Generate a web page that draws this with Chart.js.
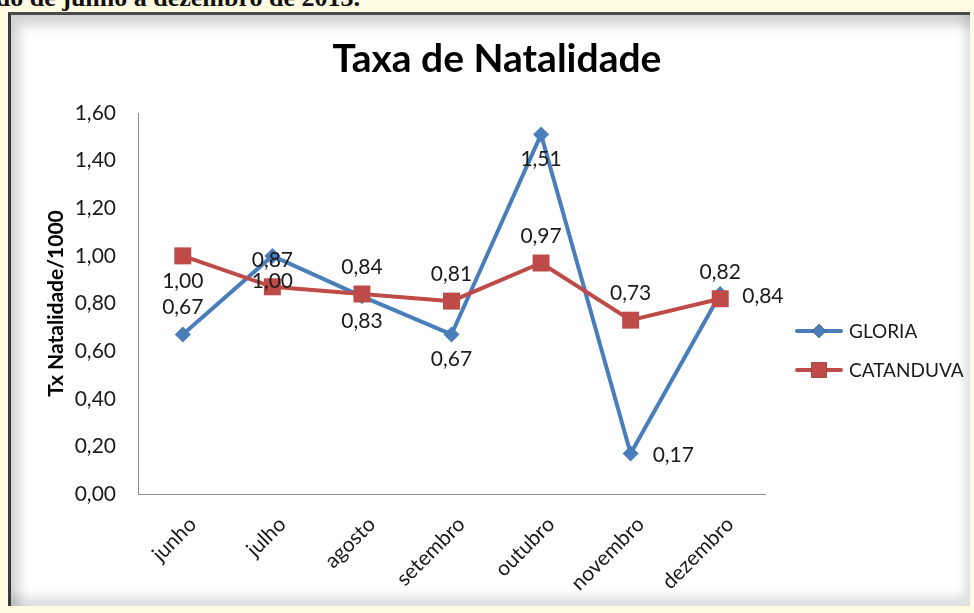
<!DOCTYPE html>
<html>
<head>
<meta charset="utf-8">
<script src="https://cdn.jsdelivr.net/npm/chart.js@4.4.0/dist/chart.umd.min.js"></script>
<style>
  body { margin: 0; background: #fffbe3; width: 974px; height: 613px; overflow: hidden; position: relative; }
  #caption { position: absolute; left: -62px; top: -17px; font: bold 26px "Liberation Serif", "DejaVu Serif", serif; color: #111; white-space: nowrap; }
  #frame { position: absolute; left: 8px; top: 12px; width: 962px; height: 594px; background: #fff;
    border-left: 3px solid #3a3a3a; border-top: 3px solid #4a4a4a; box-sizing: border-box;
    box-shadow: inset 8px 10px 12px rgba(0,0,0,0.18), inset -6px -10px 10px rgba(0,0,0,0.12); }
  #chart-box { position: absolute; left: 10px; top: 14px; width: 960px; height: 592px; }
</style>
</head>
<body>
<div id="caption">período de junho a dezembro de 2013.</div>
<div id="frame"></div>
<div id="chart-box"><canvas id="natalidade-chart"></canvas></div>
<script>
const months = ['junho', 'julho', 'agosto', 'setembro', 'outubro', 'novembro', 'dezembro'];
const gloria = [0.67, 1.00, 0.83, 0.67, 1.51, 0.17, 0.84];
const catanduva = [1.00, 0.87, 0.84, 0.81, 0.97, 0.73, 0.82];
const yTicks = [0, 0.2, 0.4, 0.6, 0.8, 1.0, 1.2, 1.4, 1.6];

// where each value label sits relative to its point
const gloriaLabelPos = ['above', 'below', 'below', 'below', 'below', 'right', 'right'];
const catanduvaLabelPos = ['below', 'above', 'above', 'above', 'above', 'above', 'above'];

const FONT = 'Lato, "Open Sans", sans-serif';
const BLUE = '#4a7ebb';
const RED = '#be4b48';

function fmt(v) {
  return v.toFixed(2).replace('.', ',');
}

// title centred on the whole canvas, not just the plot
const bigTitle = {
  id: 'bigTitle',
  afterDraw(chart) {
    const ctx = chart.ctx;
    ctx.save();
    ctx.font = 'bold 39px ' + FONT;
    ctx.fillStyle = '#000';
    ctx.textAlign = 'center';
    ctx.textBaseline = 'middle';
    ctx.fillText('Taxa de Natalidade', chart.width / 2 + 7, 45);
    ctx.restore();
  }
};

const valueLabels = {
  id: 'valueLabels',
  afterDatasetsDraw(chart) {
    const ctx = chart.ctx;
    ctx.save();
    ctx.font = '21px ' + FONT;
    ctx.fillStyle = '#1a1a1a';
    ctx.textBaseline = 'middle';
    chart.data.datasets.forEach((ds, i) => {
      const meta = chart.getDatasetMeta(i);
      meta.data.forEach((pt, j) => {
        const pos = ds.labelPos[j];
        let x = pt.x, y = pt.y;
        ctx.textAlign = 'center';
        if (pos === 'above') y -= 27;
        else if (pos === 'below') y += 25;
        else { ctx.textAlign = 'left'; x += 22; y += 2; }
        ctx.fillText(fmt(ds.data[j]), x, y);
      });
    });
    ctx.restore();
  }
};

const sideLegend = {
  id: 'sideLegend',
  afterDraw(chart) {
    const ctx = chart.ctx;
    const x0 = chart.chartArea.right + 32;
    ctx.save();
    ctx.font = '19px ' + FONT;
    ctx.textBaseline = 'middle';
    ctx.textAlign = 'left';
    chart.data.datasets.forEach((ds, i) => {
      const y = 317 + i * 39;
      ctx.strokeStyle = ds.borderColor;
      ctx.lineWidth = 4;
      ctx.lineCap = 'round';
      ctx.beginPath();
      ctx.moveTo(x0, y);
      ctx.lineTo(x0 + 44, y);
      ctx.stroke();
      Chart.helpers.drawPoint(ctx, {
        pointStyle: ds.pointStyle, radius: ds.pointStyle === 'rect' ? 11 : 7, borderWidth: 0
      }, x0 + 22, y);
      ctx.fillStyle = ds.borderColor;
      ctx.fill();
      ctx.fillStyle = '#1a1a1a';
      ctx.fillText(ds.label, x0 + 52, y + 1);
    });
    ctx.restore();
  }
};

new Chart(document.getElementById('natalidade-chart'), {
  type: 'line',
  data: {
    labels: months,
    datasets: [
      {
        label: 'GLORIA',
        data: gloria,
        labelPos: gloriaLabelPos,
        borderColor: BLUE,
        backgroundColor: BLUE,
        borderWidth: 4,
        pointStyle: 'rectRot',
        pointRadius: 8,
        pointBorderWidth: 0,
        tension: 0,
        order: 1
      },
      {
        label: 'CATANDUVA',
        data: catanduva,
        labelPos: catanduvaLabelPos,
        borderColor: RED,
        backgroundColor: RED,
        borderWidth: 4,
        pointStyle: 'rect',
        pointRadius: 12,
        pointBorderWidth: 0,
        tension: 0,
        order: 0
      }
    ]
  },
  options: {
    responsive: true,
    maintainAspectRatio: false,
    animation: false,
    layout: { padding: { left: 0, right: 205, top: 99, bottom: 0 } },
    plugins: {
      legend: { display: false },
      tooltip: { enabled: false },
      title: { display: false }
    },
    scales: {
      x: {
        offset: true,
        grid: { display: false },
        border: { display: true, color: '#8c8c8c', width: 1 },
        ticks: {
          color: '#1a1a1a',
          font: { family: FONT, size: 21 },
          maxRotation: 45,
          minRotation: 45,
          labelOffset: 10,
          padding: 10
        },
        afterFit: s => { s.height = 112; }
      },
      y: {
        min: 0,
        max: 1.6,
        grid: { display: false },
        border: { display: true, color: '#8c8c8c', width: 1 },
        afterBuildTicks: s => { s.ticks = yTicks.map(v => ({ value: v })); },
        ticks: {
          color: '#1a1a1a',
          font: { family: FONT, size: 21 },
          padding: 14,
          callback: v => fmt(v)
        },
        title: {
          display: true,
          text: 'Tx Natalidade/1000',
          color: '#000',
          font: { family: FONT, size: 21, weight: 'bold' },
          padding: { top: 34, bottom: 0 }
        },
        afterFit: s => { s.width = 128; }
      }
    }
  },
  plugins: [bigTitle, valueLabels, sideLegend]
});
</script>
</body>
</html>
